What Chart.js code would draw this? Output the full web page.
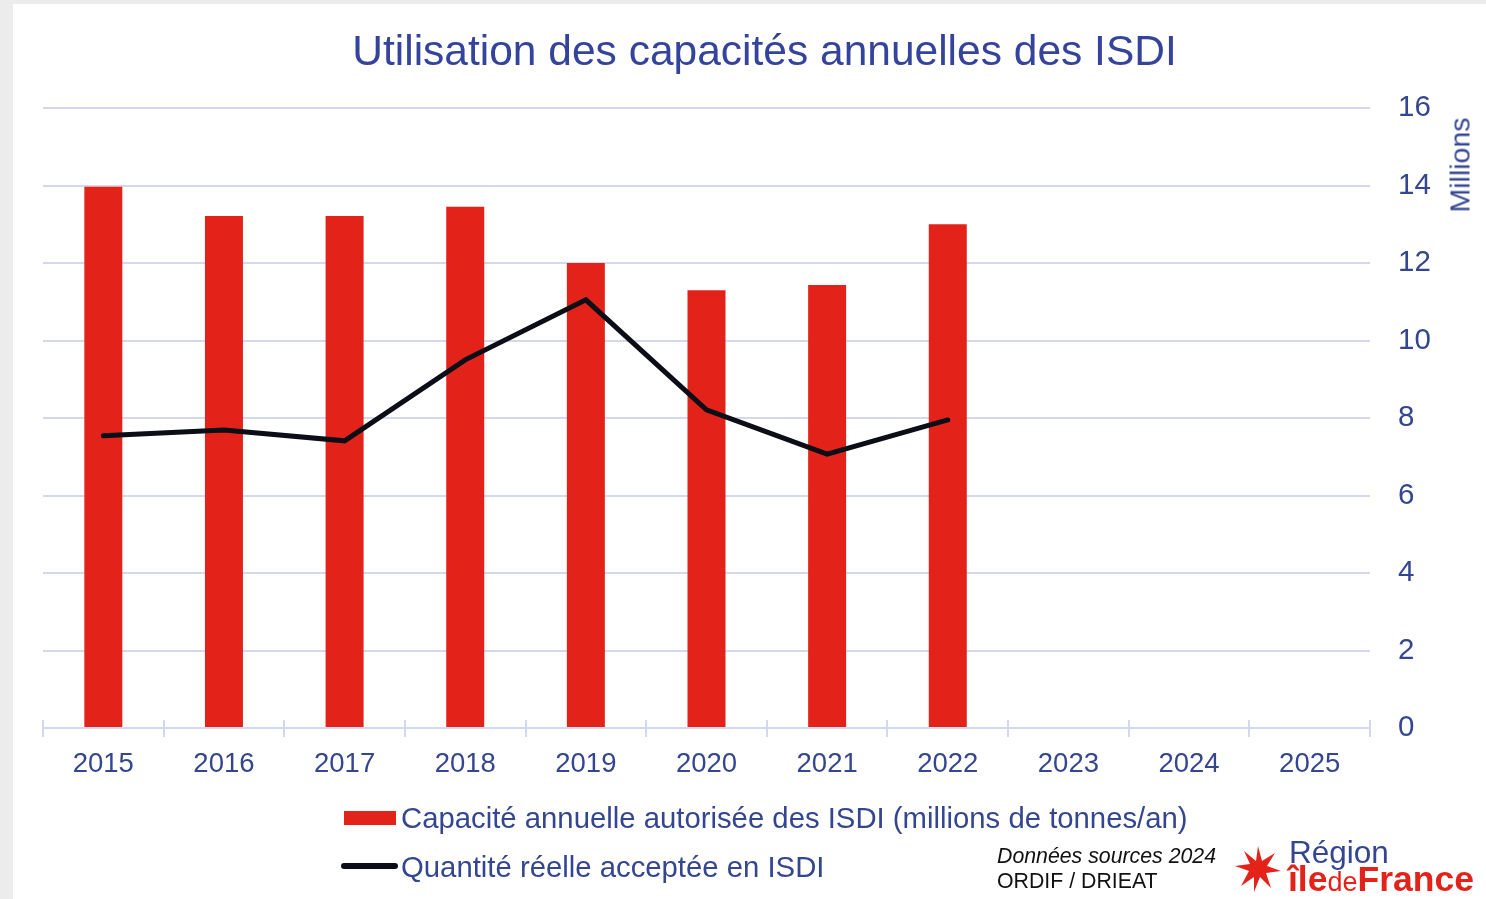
<!DOCTYPE html>
<html>
<head>
<meta charset="utf-8">
<script src="https://cdn.jsdelivr.net/npm/chart.js@4"></script>
<style>
  html, body { margin: 0; padding: 0; background: #ececec; }
  body { width: 1486px; height: 899px; position: relative; overflow: hidden; font-family: "Liberation Sans", Arial, sans-serif; }
  .card { position: absolute; left: 13px; top: 4px; width: 1473px; height: 895px; background: #fff; }
  #wrap { position: absolute; left: 0; top: 0; width: 1486px; height: 899px; }
  .unit { position: absolute; left: 1460px; top: 165px; transform: translate(-50%, -50%) rotate(-90deg); color: #344690; font-size: 28.5px; white-space: nowrap; }
  .leg { position: absolute; color: #344690; font-size: 29.3px; white-space: nowrap; line-height: 1; }
  .sw-bar { position: absolute; left: 344px; top: 811px; width: 52px; height: 14px; background: #e3231a; }
  .sw-line { position: absolute; left: 341px; top: 863px; width: 57px; height: 6px; border-radius: 3px; background: #0b0d17; }
  .src { position: absolute; left: 997px; color: #111; font-size: 21.3px; white-space: nowrap; line-height: 1; }
  .logo-r { position: absolute; left: 1289px; top: 837px; color: #344690; font-size: 31.5px; line-height: 1; }
  .logo-f { position: absolute; left: 1288px; top: 862px; color: #e3231a; font-size: 35.5px; font-weight: bold; line-height: 1; letter-spacing: 0px; }
  .logo-f span { font-weight: normal; font-size: 27px; }
</style>
</head>
<body>
<div class="card"></div>
<div id="wrap"><canvas id="myChart" width="1486" height="899"></canvas></div>
<div class="unit">Millions</div>
<div class="sw-bar"></div>
<div class="leg" style="left:401px; top:803px;">Capacité annuelle autorisée des ISDI (millions de tonnes/an)</div>
<div class="sw-line"></div>
<div class="leg" style="left:401px; top:852px;">Quantité réelle acceptée en ISDI</div>
<div class="src" style="top:846px; font-style: italic;">Données sources 2024</div>
<div class="src" style="top:871px;">ORDIF / DRIEAT</div>
<svg style="position:absolute; left:1234px; top:845px;" width="48" height="48" viewBox="-24 -24 48 48">
  <polygon fill="#e3231a" points="0,-23 4,-8 17,-16 9,-3 23,2 8,4 13,19 2,8 -4,23 -4,8 -17,17 -9,2 -23,-3 -8,-5 -14,-18 -2,-8"/>
</svg>
<div class="logo-r">Région</div>
<div class="logo-f">île<span>de</span>France</div>
<script>
const years = ['2015','2016','2017','2018','2019','2020','2021','2022','2023','2024','2025'];
const capacity = [13.97, 13.21, 13.21, 13.45, 12.0, 11.30, 11.43, 13.0];
const accepted = [7.54, 7.69, 7.41, 9.50, 11.05, 8.21, 7.07, 7.95];
const yTicks = [0, 2, 4, 6, 8, 10, 12, 14, 16];

const blue = '#344690';
const gridColor = '#d3d8ee';

// tick marks between categories on the x axis
const catTicks = {
  id: 'catTicks',
  afterDraw(chart) {
    const x = chart.scales.x, c = chart.ctx;
    const step = (x.right - x.left) / years.length;
    c.save();
    c.strokeStyle = gridColor;
    c.lineWidth = 2;
    for (let i = 0; i <= years.length; i++) {
      const px = Math.round(x.left + i * step);
      c.beginPath();
      c.moveTo(px, x.top - 8);
      c.lineTo(px, x.top + 9);
      c.stroke();
    }
    c.restore();
  }
};

const ctx = document.getElementById('myChart');
new Chart(ctx, {
  data: {
    labels: years,
    datasets: [{
      type: 'line',
      label: 'Quantité réelle acceptée en ISDI',
      data: accepted,
      borderColor: '#0b0d17',
      borderWidth: 5,
      pointRadius: 0,
      tension: 0,
      borderCapStyle: 'round',
      order: 0
    }, {
      type: 'bar',
      label: 'Capacité annuelle autorisée des ISDI (millions de tonnes/an)',
      data: capacity,
      backgroundColor: '#e3231a',
      barPercentage: 0.315,
      categoryPercentage: 1,
      order: 1
    }]
  },
  options: {
    responsive: false,
    animation: false,
    layout: { padding: { left: 43, right: 0, top: 0, bottom: 0 } },
    plugins: {
      legend: { display: false },
      tooltip: { enabled: false },
      title: {
        display: true,
        text: 'Utilisation des capacités annuelles des ISDI',
        color: '#34439b',
        font: { family: 'Liberation Sans', size: 42.5, weight: 'normal', lineHeight: 1.2 },
        padding: { top: 28, bottom: 29 }
      }
    },
    scales: {
      x: {
        grid: { display: false },
        border: { display: false },
        ticks: {
          color: blue,
          font: { family: 'Liberation Sans', size: 27.5 },
          padding: 12,
          maxRotation: 0
        },
        afterFit(s) { s.height = 171; }
      },
      y: {
        position: 'right',
        min: 0,
        max: 16,
        afterBuildTicks(s) { s.ticks = yTicks.map(v => ({ value: v })); },
        grid: { color: gridColor, lineWidth: 2, drawTicks: false },
        border: { display: false },
        ticks: {
          color: blue,
          font: { family: 'Liberation Sans', size: 29.5 },
          padding: 28
        },
        afterFit(s) { s.width = 116; }
      }
    }
  },
  plugins: [catTicks]
});
</script>
</body>
</html>
